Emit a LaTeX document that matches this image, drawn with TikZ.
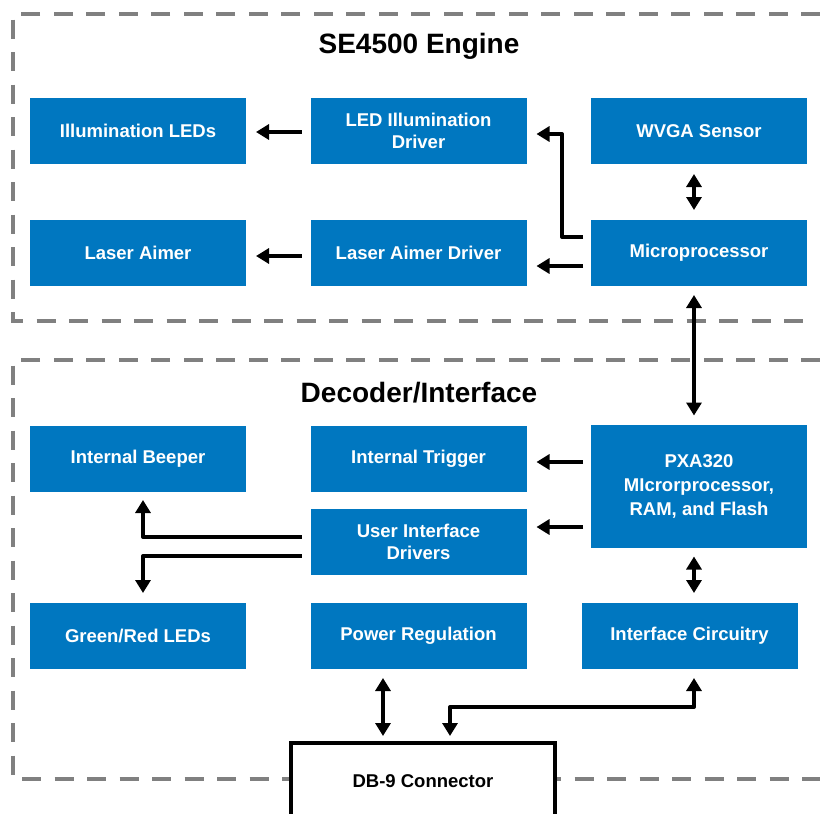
\documentclass[tikz,border=0pt]{standalone}
\usepackage{fontspec}
\setmainfont{Liberation Sans}
\usetikzlibrary{arrows.meta}
\definecolor{boxblue}{RGB}{0,119,192}
\definecolor{dashgray}{RGB}{128,128,128}
\begin{document}
\begin{tikzpicture}[x=1pt,y=-1pt,
 blk/.style={fill=boxblue, text=white, font=\bfseries\fontsize{18.5}{22.5}\selectfont, minimum width=216pt, minimum height=66pt, inner sep=0pt, outer sep=0pt, align=center},
 arr/.style={line width=4pt, -{Triangle[length=13pt,width=15pt]}, line join=round},
 biarr/.style={line width=4pt, {Triangle[length=13pt,width=15pt]}-{Triangle[length=13pt,width=15pt]}, line join=round},
 frame/.style={draw=dashgray, line width=4pt, dash pattern=on 19pt off 13.5pt},
 title/.style={font=\bfseries\fontsize{28}{32}\selectfont, inner sep=0pt}]
\useasboundingbox (0,0) rectangle (820,814);
\fill[white] (0,0) rectangle (820,814);
\draw[frame] (820,14) -- (13,14) -- (13,321) -- (808,321);
\draw[frame] (820,360) -- (13,360) -- (13,779) -- (820,779);

\node[title] (t1) at (419,46) {SE4500 Engine};
\node[blk] (illum) at (138,131) {Illumination LEDs};
\node[blk] (ledd) at (418.5,131) {LED Illumination\\Driver};
\node[blk] (wvga) at (699,131) {WVGA Sensor};
\node[blk] (laser) at (138,253) {Laser Aimer};
\node[blk] (laserd) at (418.5,253) {Laser Aimer Driver};
\node[blk] (micro) at (699,253) {Microprocessor};

\node[title] (t2) at (419,393) {Decoder/Interface};
\node[blk] (beeper) at (138,459) {Internal Beeper};
\node[blk] (trig) at (418.5,459) {Internal Trigger};
\node[blk, minimum height=123pt, font=\bfseries\fontsize{18.5}{24}\selectfont] (pxa) at (699,486) {PXA320\\MIcrorprocessor,\\RAM, and Flash};
\node[blk] (uid) at (418.5,542) {User Interface\\Drivers};
\node[blk] (leds) at (138,636) {Green/Red LEDs};
\node[blk] (power) at (418.5,636) {Power Regulation};
\node[blk] (ifc) at (689.5,636) {Interface Circuitry};
\node[draw, line width=4pt, fill=white, minimum width=264pt, minimum height=76pt, inner sep=0pt, outer sep=0pt, font=\bfseries\fontsize{18.5}{22}\selectfont] (db9) at (423,781) {DB-9 Connector};

\draw[arr] ([xshift=-9pt,yshift=-1pt]ledd.west) -- ([xshift=10pt,yshift=-1pt]illum.east);
\draw[arr] ([xshift=-9pt,yshift=-3pt]laserd.west) -- ([xshift=10pt,yshift=-3pt]laser.east);
\draw[arr] ([xshift=-8pt,yshift=16pt]micro.west) -- ++(-21,0) |- ([xshift=10pt,yshift=-3pt]ledd.east);
\draw[arr] ([xshift=-8pt,yshift=-13pt]micro.west) -- ([xshift=10pt,yshift=-13pt]laserd.east);
\draw[biarr] ([xshift=-5pt,yshift=-10pt]wvga.south) -- ([xshift=-5pt,yshift=10pt]micro.north);
\draw[biarr] ([xshift=-5pt,yshift=-9pt]micro.south) -- ([xshift=-5pt,yshift=9pt]pxa.north);
\draw[arr] ([xshift=-8pt,yshift=24pt]pxa.west) -- ([xshift=10pt,yshift=-3pt]trig.east);
\draw[arr] ([xshift=-8pt,yshift=-41pt]pxa.west) -- ([xshift=10pt,yshift=15pt]uid.east);
\draw[biarr] ([xshift=-5pt,yshift=-9pt]pxa.south) -- ([xshift=4.5pt,yshift=10pt]ifc.north);
\draw[arr] ([xshift=-9pt,yshift=5pt]uid.west) -| ([xshift=5pt,yshift=-8pt]beeper.south);
\draw[arr] ([xshift=-9pt,yshift=-14pt]uid.west) -| ([xshift=5pt,yshift=10pt]leds.north);
\coordinate (db9top) at ([yshift=7pt]db9.north);
\coordinate (pw) at ([xshift=-35.5pt,yshift=-9pt]power.south);
\draw[biarr] (pw) -- (pw |- db9top);
\draw[biarr] ([xshift=27pt]db9top) -- ++(0,-29) -| ([xshift=4.5pt,yshift=-9pt]ifc.south);
\end{tikzpicture}
\end{document}
